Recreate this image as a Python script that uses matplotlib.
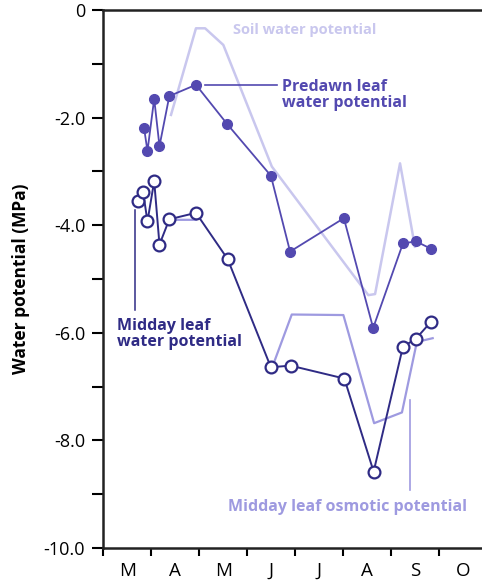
import numpy as np
import matplotlib
matplotlib.use("Agg")
import matplotlib.pyplot as plt

# Datos (x en meses desde el 1 de marzo, y en MPa)
predawn_x = [0.85, 0.92, 1.06, 1.17, 1.375, 1.93, 2.58, 3.49, 3.89, 5.01, 5.62, 6.24, 6.51, 6.83]
predawn_y = [-2.20, -2.62, -1.65, -2.53, -1.60, -1.39, -2.12, -3.08, -4.49, -3.87, -5.91, -4.34, -4.30, -4.44]

midday_x = [0.72, 0.83, 0.92, 1.06, 1.17, 1.375, 1.93, 2.59, 3.49, 3.90, 5.02, 5.63, 6.24, 6.51, 6.83]
midday_y = [-3.55, -3.39, -3.93, -3.18, -4.36, -3.89, -3.77, -4.63, -6.64, -6.61, -6.85, -8.58, -6.26, -6.11, -5.79]

soil_x = [1.41, 1.93, 2.12, 2.50, 3.51, 5.52, 5.66, 6.18, 6.49]
soil_y = [-1.95, -0.34, -0.34, -0.65, -2.91, -5.30, -5.28, -2.85, -4.40]

# el potencial osmotico tiene un hueco entre mayo y junio
osmotic_x = [1.375, 1.93, np.nan, 3.51, 3.925, 5.00, 5.64, 6.22, 6.53, 6.86]
osmotic_y = [-3.90, -3.90, np.nan, -6.66, -5.66, -5.67, -7.68, -7.48, -6.17, -6.10]

months = ['M', 'A', 'M', 'J', 'J', 'A', 'S', 'O']

c_soil = '#c9c7ee'
c_osm = '#9e9ae0'
c_pre = '#5349b0'
c_mid = '#2f2b85'

plt.rcParams['font.family'] = ['Open Sans', 'DejaVu Sans']

fig = plt.figure(figsize=(4.82, 5.88), dpi=100)
ax = fig.add_axes([0.2143, 0.068, 0.786, 0.915])

ax.plot(soil_x, soil_y, color=c_soil, lw=1.8, zorder=1)
ax.plot(osmotic_x, osmotic_y, color=c_osm, lw=1.6, zorder=2)
ax.plot(predawn_x, predawn_y, color=c_pre, lw=1.3, marker='o', ms=7,
        mfc=c_pre, mec=c_pre, zorder=3)
ax.plot(midday_x, midday_y, color=c_mid, lw=1.4, marker='o', ms=8.5,
        mfc='white', mec=c_mid, mew=1.6, zorder=4)

# Etiquetas y lineas guia
ax.text(2.70, -0.37, 'Soil water potential', color=c_soil, fontsize=10.5,
        fontweight='bold', va='center', ha='left')
ax.plot([2.12, 3.62], [-1.39, -1.39], color=c_pre, lw=1.2)
ax.text(3.72, -1.58, 'Predawn leaf\nwater potential', color=c_pre, fontsize=11.5,
        fontweight='bold', va='center', ha='left', linespacing=0.95)
ax.plot([0.66, 0.66], [-3.72, -5.58], color=c_mid, lw=1.1)
ax.text(0.285, -6.02, 'Midday leaf\nwater potential', color=c_mid, fontsize=11.5,
        fontweight='bold', va='center', ha='left', linespacing=0.95)
ax.plot([6.39, 6.39], [-7.25, -8.92], color=c_osm, lw=1.2)
ax.text(2.6, -9.24, 'Midday leaf osmotic potential', color=c_osm, fontsize=11.5,
        fontweight='bold', va='center', ha='left')

ax.set_xlim(0, 7.89)
ax.set_ylim(-10, 0)

ax.set_yticks(np.arange(-10, 0.5, 1))
ylabels = []
for v in np.arange(-10, 0.5, 1):
    if v == 0:
        ylabels.append('0')
    elif int(v) % 2 == 0:
        ylabels.append(f'{v:.1f}')
    else:
        ylabels.append('')
ax.set_yticklabels(ylabels, fontsize=13)

ax.set_xticks(np.arange(0, 8))
ax.set_xticklabels([])
ax.set_xticks(np.arange(0.5, 8), minor=True)
ax.set_xticklabels(months, minor=True, fontsize=13.5)
ax.tick_params(axis='x', which='minor', length=0, pad=10)
ax.tick_params(axis='x', which='major', length=6, width=1.5, direction='out')
ax.tick_params(axis='y', length=8, width=1.5, direction='out', pad=5)

ax.set_ylabel('Water potential (MPa)', fontsize=12.5, fontweight='bold', labelpad=10)

ax.spines['right'].set_visible(False)
for s in ['left', 'bottom', 'top']:
    ax.spines[s].set_linewidth(1.8)
    ax.spines[s].set_color('#222222')

fig.savefig('out.png', dpi=100)
